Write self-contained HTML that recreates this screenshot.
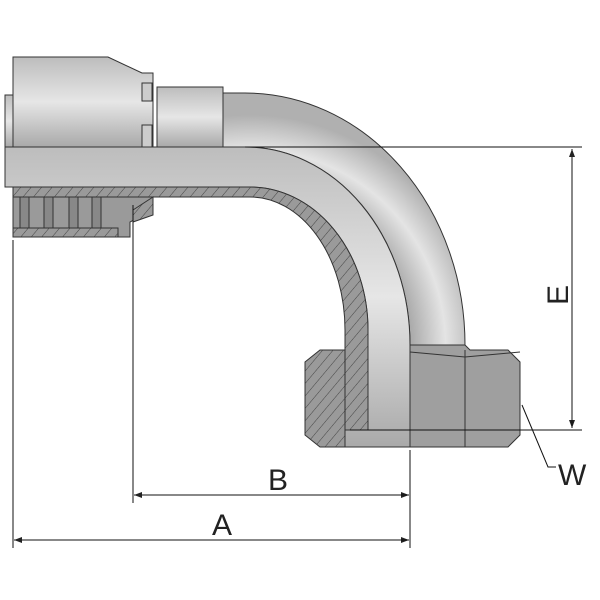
<!DOCTYPE html>
<html><head><meta charset="utf-8"><style>body{margin:0;background:#fff}svg{display:block}</style></head><body>
<svg width="600" height="600" viewBox="0 0 600 600" xmlns="http://www.w3.org/2000/svg">
<defs>
<linearGradient id="gv" x1="0" y1="0" x2="0" y2="1"><stop offset="0" stop-color="#bdbdbd"/><stop offset="0.5" stop-color="#e6e6e6"/><stop offset="1" stop-color="#a9a9a9"/></linearGradient>
<linearGradient id="gh" x1="0" y1="0" x2="1" y2="0"><stop offset="0" stop-color="#a8a8a8"/><stop offset="0.5" stop-color="#e2e2e2"/><stop offset="1" stop-color="#a0a0a0"/></linearGradient>
<radialGradient id="gr" cx="250" cy="345" r="230" gradientUnits="userSpaceOnUse"><stop offset="0.7" stop-color="#aaa"/><stop offset="0.85" stop-color="#e4e4e4"/><stop offset="1" stop-color="#b0b0b0"/></radialGradient>
<pattern id="hat" width="8" height="8" patternUnits="userSpaceOnUse" patternTransform="rotate(40)"><rect width="8" height="8" fill="#9a9a9a"/><line x1="0" y1="0" x2="0" y2="8" stroke="#444" stroke-width="1"/></pattern>
<marker id="ar" markerWidth="8" markerHeight="6" refX="8" refY="3" orient="auto"><path d="M0,0 L8,3 L0,6z" fill="#222"/></marker>
</defs>
<g stroke="#333" stroke-width="1">
<rect x="5" y="95" width="10" height="52" fill="url(#gv)"/>
<path d="M13,57 H108 L142,73 H153 V147 H13z" fill="url(#gv)"/>
<rect x="142" y="83" width="10" height="18" fill="#ccc"/>
<rect x="142" y="125" width="10" height="22" fill="#ccc"/>
<rect x="157" y="87" width="66" height="60" fill="url(#gv)"/>
<!-- elbow exterior -->
<path d="M223,93 H245 A220,252 0 0 1 465,345 L410,345 A165,198 0 0 0 245,147 L223,147z" fill="url(#gr)"/>
<!-- bore -->
<path d="M5,147 H245 A165,198 0 0 1 410,345 L410,447 L345,447 L345,430 L368,430 L368,330 A118,143 0 0 0 250,187 H5z" fill="url(#gv)"/>
<path d="M13,187 H250 A118,143 0 0 1 368,330 V430 H345 V330 A95,133 0 0 0 250,197 H13z" fill="url(#hat)"/>
<!-- socket section -->
<path d="M13,197 H153 V210 L130,222 V237 H13z" fill="#9a9a9a"/>
<rect x="13" y="228" width="105" height="9" fill="url(#hat)"/>
<rect x="20" y="197" width="9" height="31" fill="#888"/><rect x="44" y="197" width="9" height="31" fill="#888"/><rect x="69" y="197" width="9" height="31" fill="#888"/><rect x="92" y="197" width="9" height="31" fill="#888"/>
<path d="M133,210 L153,197 V215 L133,222z" fill="url(#hat)"/>
<!-- nut -->
<path d="M320,350 H345 V447 H320 L305,435 V362z" fill="url(#hat)"/>
<path d="M410,345 H465 L470,350 H508 L520,362 V435 L508,447 H410z" fill="#9f9f9f"/>
<line x1="465" y1="350" x2="465" y2="447"/>
<path d="M410,352 L465,357 L520,352" fill="none"/>
</g>
<g stroke="#111" stroke-width="1" fill="none">
<line x1="245" y1="147" x2="582" y2="147"/>
<line x1="350" y1="430" x2="582" y2="430"/>
<line x1="572" y1="150" x2="572" y2="428" marker-end="url(#ar)"/>
<line x1="572" y1="428" x2="572" y2="149" marker-end="url(#ar)"/>
<line x1="13" y1="240" x2="13" y2="548"/>
<line x1="133" y1="205" x2="133" y2="503"/>
<line x1="410" y1="450" x2="410" y2="548"/>
<line x1="135" y1="495" x2="409" y2="495" marker-end="url(#ar)"/>
<line x1="408" y1="495" x2="134" y2="495" marker-end="url(#ar)"/>
<line x1="15" y1="540" x2="409" y2="540" marker-end="url(#ar)"/>
<line x1="408" y1="540" x2="14" y2="540" marker-end="url(#ar)"/>
<path d="M522,405 L548,467 H556"/>
</g>
<g font-family="Liberation Sans, sans-serif" font-size="30" fill="#222">
<text x="268" y="490">B</text>
<text x="212" y="535">A</text>
<text x="558" y="485">W</text>
<text transform="translate(568,305) rotate(-90)">E</text>
</g>
</svg>
</body></html>
